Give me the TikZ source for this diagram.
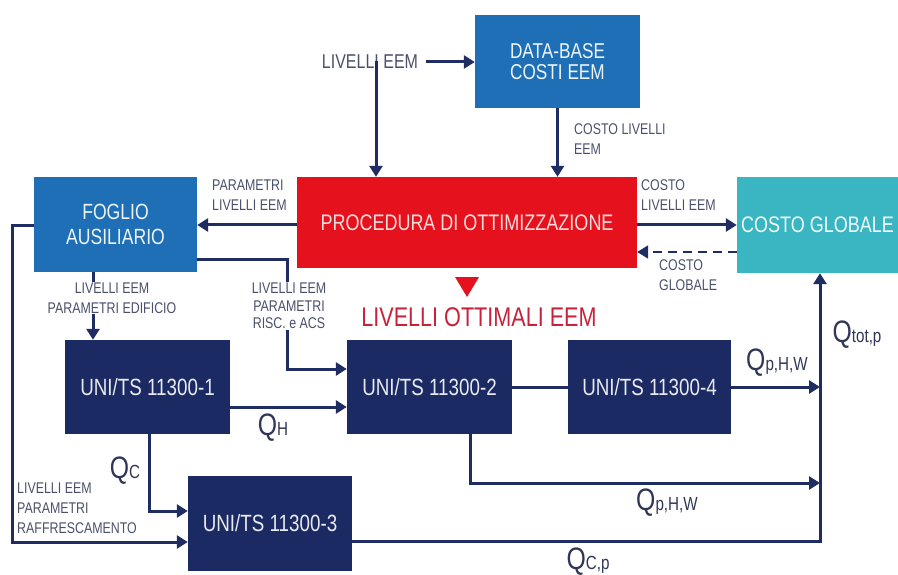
\documentclass[tikz,border=0pt]{standalone}
\usepackage{fontspec}
\setmainfont{Liberation Sans}[FakeStretch=0.8]
\usetikzlibrary{arrows.meta}
\definecolor{navy}{HTML}{1B2A63}
\definecolor{lnavy}{HTML}{1F2D62}
\definecolor{mblue}{HTML}{1E6FB6}
\definecolor{rred}{HTML}{E5121D}
\definecolor{ccyan}{HTML}{3AB6C3}
\definecolor{lblgray}{HTML}{4A506C}
\definecolor{qgray}{HTML}{2F3657}
\definecolor{optred}{HTML}{C8223A}
\tikzset{
  boxbase/.style={inner sep=0pt, align=center, font=\fontsize{22.5}{25}\selectfont},
  bluebox/.style={boxbase, fill=mblue, text=white!92!mblue},
  redbox/.style={boxbase, fill=rred, text=white!85!rred},
  cyanbox/.style={boxbase, fill=ccyan, text=white!92!ccyan},
  navybox/.style={boxbase, fill=navy, text=white!90!navy, minimum width=165pt, minimum height=94pt, font=\fontsize{23.5}{25}\selectfont},
  arr/.style={draw=lnavy, line width=3pt, -{Triangle[length=11pt,width=13pt]}},
  plain/.style={draw=lnavy, line width=3pt},
  lbl/.style={text=lblgray, inner sep=1pt, font=\fontsize{15.5}{20}\selectfont},
  qlbl/.style={text=qgray, inner sep=0pt},
}
\newcommand{\qq}[1]{{\fontsize{31}{31}\selectfont Q}{\fontsize{19}{19}\selectfont #1}}
\begin{document}
\begin{tikzpicture}[x=1pt,y=-1pt]
\useasboundingbox (0,0) rectangle (898,575);
% boxes
\node[bluebox, minimum width=165pt, minimum height=93pt, font=\fontsize{21.5}{21}\selectfont] (db) at (557.5,61.5) {DATA-BASE\\COSTI EEM};
\node[redbox, minimum width=340pt, minimum height=91pt] (proc) at (467,222.5) {PROCEDURA DI OTTIMIZZAZIONE};
\node[bluebox, minimum width=163pt, minimum height=95pt, font=\fontsize{22}{25}\selectfont] (fog) at (115.5,224.5) {FOGLIO\\AUSILIARIO};
\node[cyanbox, minimum width=161pt, minimum height=96pt] (cg) at (817.5,225) {COSTO GLOBALE};
\node[navybox] (u1) at (147.5,387) {UNI/TS 11300-1};
\node[navybox] (u2) at (429.5,387) {UNI/TS 11300-2};
\node[navybox, minimum width=163pt] (u4) at (649.5,387) {UNI/TS 11300-4};
\node[navybox, minimum width=164pt, minimum height=95pt] (u3) at (270,523.5) {UNI/TS 11300-3};
% top label
\node[text=lblgray, inner sep=0pt, font=\fontsize{20}{20}\selectfont] (lv) at (370,62) {LIVELLI EEM};
\coordinate (bus1) at (820,387);
\coordinate (bus2) at (820,483);
\coordinate (bus3) at (820,541);
% connectors
\draw[arr] ([xshift=8pt]lv.east) -- (db.west |- lv.east);
\draw[arr] ([xshift=6pt,yshift=8pt]lv.south) -- ([xshift=6pt]lv.south |- proc.north);
\draw[arr] (db.south) -- (db.south |- proc.north);
\draw[arr] (proc.west |- 0,225) -- (fog.east |- 0,225);
\draw[arr] (proc.east |- 0,225) -- (cg.west |- 0,225);
\draw[arr, dashed, dash pattern=on 9pt off 6pt, line width=2pt] (cg.west |- 0,252) -- (proc.east |- 0,252);
\draw[arr] (fog.south -| 93,0) -- (u1.north -| 93,0);
\draw[arr] (fog.east |- 0,260) -| (287,369) -- (u2.west |- 0,369);
\draw[arr] (fog.west |- 0,226) -| (12,542) -- (u3.west |- 0,542);
\draw[arr] (u1.east |- 0,407) -- (u2.west |- 0,407);
\draw[arr] (u1.south -| 149,0) |- (u3.west |- 0,511);
\draw[plain] (u2.east) -- (u4.west);
\draw[arr] (u4.east) -- (bus1);
\draw[arr] (u2.south -| 470,0) |- (bus2);
\draw[arr] (u3.east |- bus3) -- (bus3) -- (cg.south -| bus3);
% red triangle
\fill[rred] (455,277) -- (479,277) -- (467,297) -- cycle;
% labels
\node[text=optred, inner sep=0pt, font=\fontsize{27}{27}\selectfont] (opt) at (479,317) {LIVELLI OTTIMALI EEM};
\node[lbl, align=left, anchor=north west] (l1) at (573,122) {COSTO LIVELLI\\EEM};
\node[lbl, align=left, anchor=north west] (l2) at (211,179) {PARAMETRI\\LIVELLI EEM};
\node[lbl, align=left, anchor=north west] (l3) at (640,178) {COSTO\\LIVELLI EEM};
\node[lbl, align=left, anchor=north west] (l4) at (658,258) {COSTO\\GLOBALE};
\node[lbl, align=center, fill=white] (l5) at (112,298) {LIVELLI EEM\\PARAMETRI EDIFICIO};
\node[lbl, align=center, fill=white, font=\fontsize{15.5}{17.5}\selectfont] (l6) at (289,306) {LIVELLI EEM\\PARAMETRI\\RISC. e ACS};
\node[lbl, align=left, anchor=north west] (l7) at (16,482) {LIVELLI EEM\\PARAMETRI\\RAFFRESCAMENTO};
% Q labels
\node[qlbl] (qh) at (273,428) {\qq{H}};
\node[qlbl] (qc) at (125,471) {\qq{C}};
\node[qlbl] (qphw1) at (777,363) {\qq{p,H,W}};
\node[qlbl] (qphw2) at (667,503) {\qq{p,H,W}};
\node[qlbl] (qcp) at (588,562) {\qq{C,p}};
\node[qlbl] (qtot) at (857,335) {\qq{tot,p}};
\end{tikzpicture}
\end{document}
